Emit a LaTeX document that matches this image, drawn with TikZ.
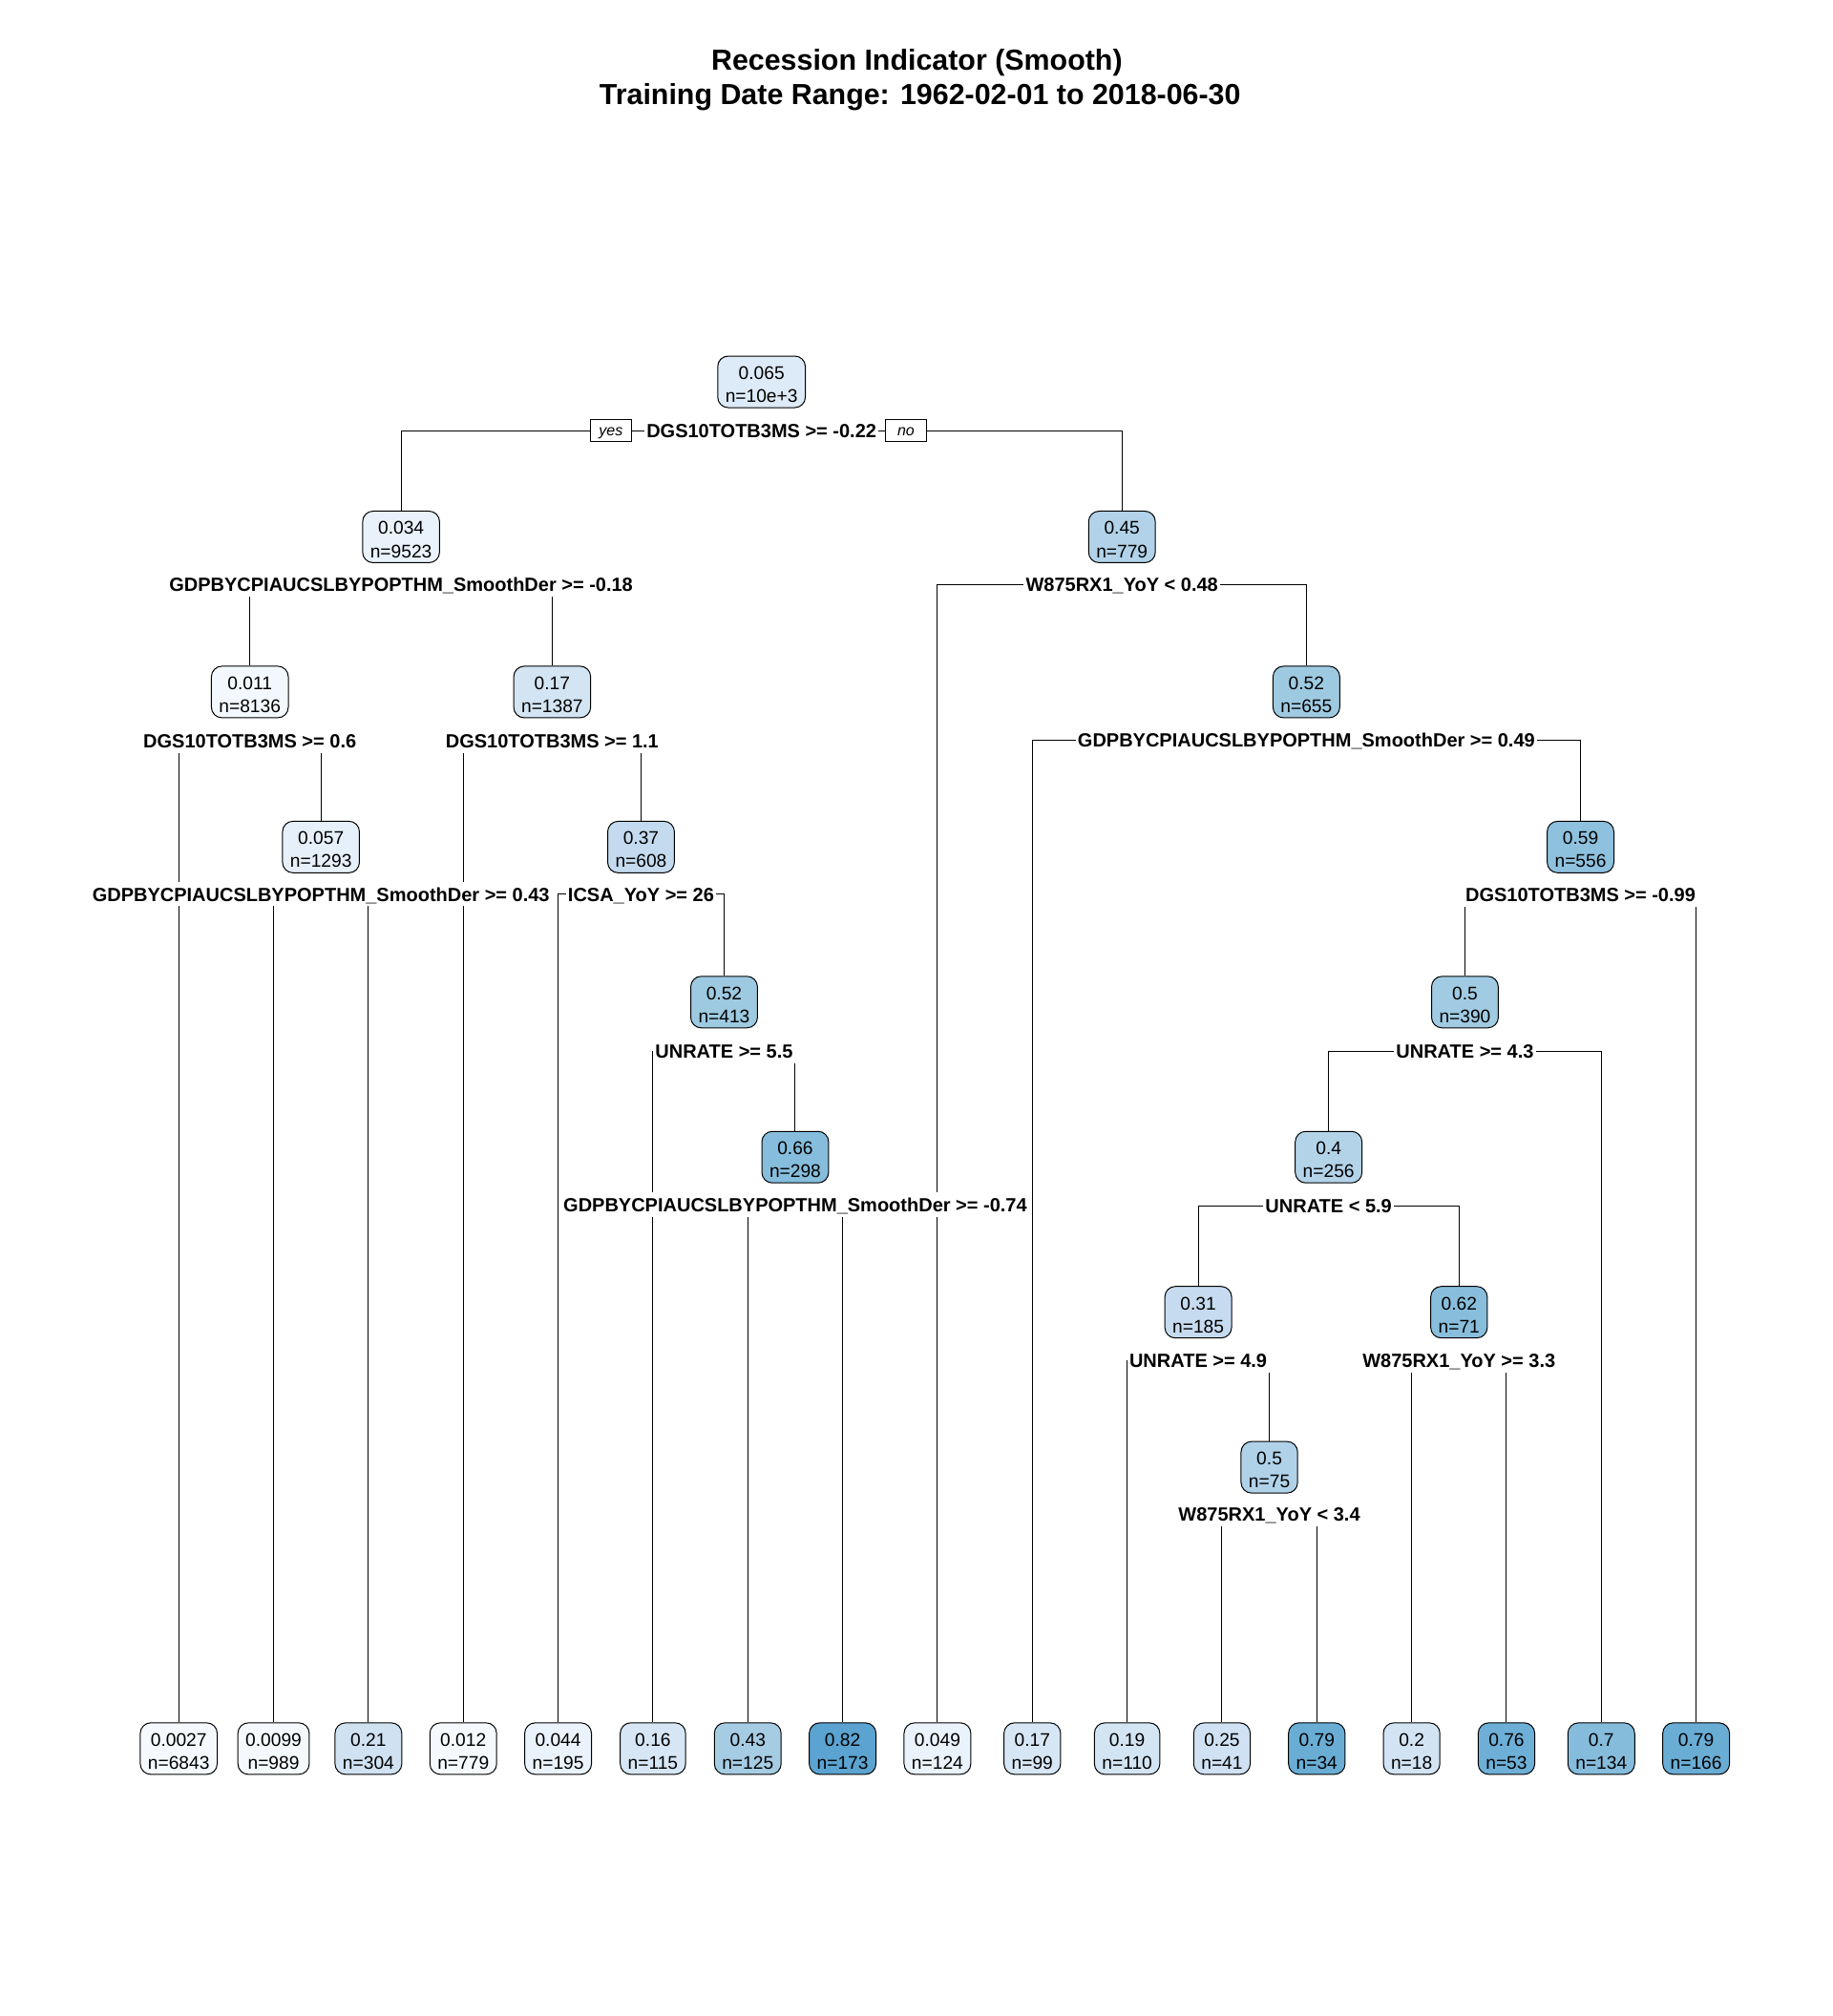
\documentclass[tikz,border=0pt]{standalone}
\usepackage{fontspec}
\setmainfont{Liberation Sans}
\usetikzlibrary{backgrounds}
\newcommand\treebox[6]{\definecolor{c#1}{HTML}{#4}\node[box, fill=c#1] (#1) at (#2,#3) {#5\\n=#6};}
\tikzset{
  x=0.6737pt, y=-0.6737pt,
  box/.style={draw=black, line width=0.5pt, rounded corners=5.5pt, align=center,
    font=\fontsize{9.6}{12.1}\selectfont, inner xsep=4pt, inner ysep=0pt, minimum height=27pt,
    text height=21.6pt, text depth=0pt},
  lab/.style={fill=white, font=\bfseries\fontsize{10}{12}\selectfont, inner xsep=1.2pt, inner ysep=1.5pt,
    text height=8.4pt, text depth=1.2pt},
  yn/.style={draw=black, fill=white, line width=0.5pt, font=\itshape\fontsize{8}{9}\selectfont,
    minimum width=21.5pt, minimum height=11.5pt, inner sep=0pt, text height=6.6pt, text depth=1.2pt},
  conn/.style={line width=0.5pt, draw=black},
  ttl/.style={font=\bfseries\fontsize{15.2}{18}\selectfont, inner sep=0pt}
}
\begin{document}
\begin{tikzpicture}
\useasboundingbox (0,0) rectangle (1425,1568);
% title
\node[ttl] (t1) at (713,48.5) {Recession Indicator (Smooth)};
\node[ttl] (t2) at (715.5,75.5) {Training Date Range: 1962-02-01 to 2018-06-30};
% internal nodes
\treebox{n1}{592.2}{297}{DDEAF7}{0.065}{10e+3}
\treebox{n2}{311.9}{417.6}{E9F2FB}{0.034}{9523}
\treebox{n3}{872.5}{417.6}{B1D2E8}{0.45}{779}
\treebox{n4}{194.3}{538.2}{F3F8FE}{0.011}{8136}
\treebox{n5}{429.4}{538.2}{D3E4F3}{0.17}{1387}
\treebox{n7}{1015.9}{538.2}{9ECAE1}{0.52}{655}
\treebox{n9}{249.6}{658.8}{E6F0FA}{0.057}{1293}
\treebox{n11}{498.5}{658.8}{C4DAEE}{0.37}{608}
\treebox{n15}{1229.1}{658.8}{8EC1DE}{0.59}{556}
\treebox{n23}{563.1}{779.4}{9ECAE1}{0.52}{413}
\treebox{n30}{1139.2}{779.4}{A0CBE2}{0.5}{390}
\treebox{n47}{618.4}{900}{86BDDC}{0.66}{298}
\treebox{n60}{1033.2}{900}{B3D3E9}{0.4}{256}
\treebox{n120}{931.8}{1020.6}{C6DBEF}{0.31}{185}
\treebox{n121}{1134.6}{1020.6}{88BEDC}{0.62}{71}
\treebox{n241}{987.1}{1141.2}{B0D2E8}{0.5}{75}
% leaves
\treebox{L1}{139}{1360}{F5F9FE}{0.0027}{6843}
\treebox{L2}{212.75}{1360}{F5F9FE}{0.0099}{989}
\treebox{L3}{286.5}{1360}{D0E2F2}{0.21}{304}
\treebox{L4}{360.25}{1360}{F5F9FE}{0.012}{779}
\treebox{L5}{434}{1360}{EAF2FB}{0.044}{195}
\treebox{L6}{507.75}{1360}{D6E6F4}{0.16}{115}
\treebox{L7}{581.5}{1360}{A6CCE4}{0.43}{125}
\treebox{L8}{655.25}{1360}{5BA3D0}{0.82}{173}
\treebox{L9}{729}{1360}{EAF2FB}{0.049}{124}
\treebox{L10}{802.75}{1360}{D6E6F4}{0.17}{99}
\treebox{L11}{876.5}{1360}{D3E4F3}{0.19}{110}
\treebox{L12}{950.25}{1360}{CFE1F2}{0.25}{41}
\treebox{L13}{1024}{1360}{69ADD5}{0.79}{34}
\treebox{L14}{1097.75}{1360}{D2E3F3}{0.2}{18}
\treebox{L15}{1171.5}{1360}{6DAFD6}{0.76}{53}
\treebox{L16}{1245.25}{1360}{85BCDC}{0.7}{134}
\treebox{L17}{1319}{1360}{69ADD5}{0.79}{166}
% split labels
\node[lab] (s1) at (592.2,335) {DGS10TOTB3MS >= -0.22};
\node[lab] (s2) at (311.9,454.6) {GDPBYCPIAUCSLBYPOPTHM\_SmoothDer >= -0.18};
\node[lab] (s3) at (872.5,454.6) {W875RX1\_YoY < 0.48};
\node[lab] (s4) at (194.3,576.2) {DGS10TOTB3MS >= 0.6};
\node[lab] (s5) at (429.4,576.2) {DGS10TOTB3MS >= 1.1};
\node[lab] (s7) at (1015.9,575.8) {GDPBYCPIAUCSLBYPOPTHM\_SmoothDer >= 0.49};
\node[lab] (s9) at (249.6,695.5) {GDPBYCPIAUCSLBYPOPTHM\_SmoothDer >= 0.43};
\node[lab] (s11) at (498.5,695.5) {ICSA\_YoY >= 26};
\node[lab] (s15) at (1229.1,696) {DGS10TOTB3MS >= -0.99};
\node[lab] (s23) at (563.1,817.5) {UNRATE >= 5.5};
\node[lab] (s30) at (1139.2,817.5) {UNRATE >= 4.3};
\node[lab] (s47) at (618.4,937) {GDPBYCPIAUCSLBYPOPTHM\_SmoothDer >= -0.74};
\node[lab] (s60) at (1033.2,937.8) {UNRATE < 5.9};
\node[lab] (s120) at (931.8,1058.5) {UNRATE >= 4.9};
\node[lab] (s121) at (1134.6,1058) {W875RX1\_YoY >= 3.3};
\node[lab] (s241) at (987.1,1178) {W875RX1\_YoY < 3.4};
% yes / no
\node[yn] (yes) at (475,335) {yes};
\node[yn] (no) at (704.5,335) {no};
% connectors
\begin{pgfonlayer}{background}
\draw[conn] (s1.center) -| (n2.north);
\draw[conn] (s1.center) -| (n3.north);
\draw[conn] (s2.center) -| (n4.north);
\draw[conn] (s2.center) -| (n5.north);
\draw[conn] (s3.center) -| (L9.north);
\draw[conn] (s3.center) -| (n7.north);
\draw[conn] (s4.center) -| (L1.north);
\draw[conn] (s4.center) -| (n9.north);
\draw[conn] (s5.center) -| (L4.north);
\draw[conn] (s5.center) -| (n11.north);
\draw[conn] (s7.center) -| (L10.north);
\draw[conn] (s7.center) -| (n15.north);
\draw[conn] (s9.center) -| (L2.north);
\draw[conn] (s9.center) -| (L3.north);
\draw[conn] (s11.center) -| (L5.north);
\draw[conn] (s11.center) -| (n23.north);
\draw[conn] (s15.center) -| (n30.north);
\draw[conn] (s15.center) -| (L17.north);
\draw[conn] (s23.center) -| (L6.north);
\draw[conn] (s23.center) -| (n47.north);
\draw[conn] (s30.center) -| (n60.north);
\draw[conn] (s30.center) -| (L16.north);
\draw[conn] (s47.center) -| (L7.north);
\draw[conn] (s47.center) -| (L8.north);
\draw[conn] (s60.center) -| (n120.north);
\draw[conn] (s60.center) -| (n121.north);
\draw[conn] (s120.center) -| (L11.north);
\draw[conn] (s120.center) -| (n241.north);
\draw[conn] (s121.center) -| (L14.north);
\draw[conn] (s121.center) -| (L15.north);
\draw[conn] (s241.center) -| (L12.north);
\draw[conn] (s241.center) -| (L13.north);
\end{pgfonlayer}
\end{tikzpicture}
\end{document}
